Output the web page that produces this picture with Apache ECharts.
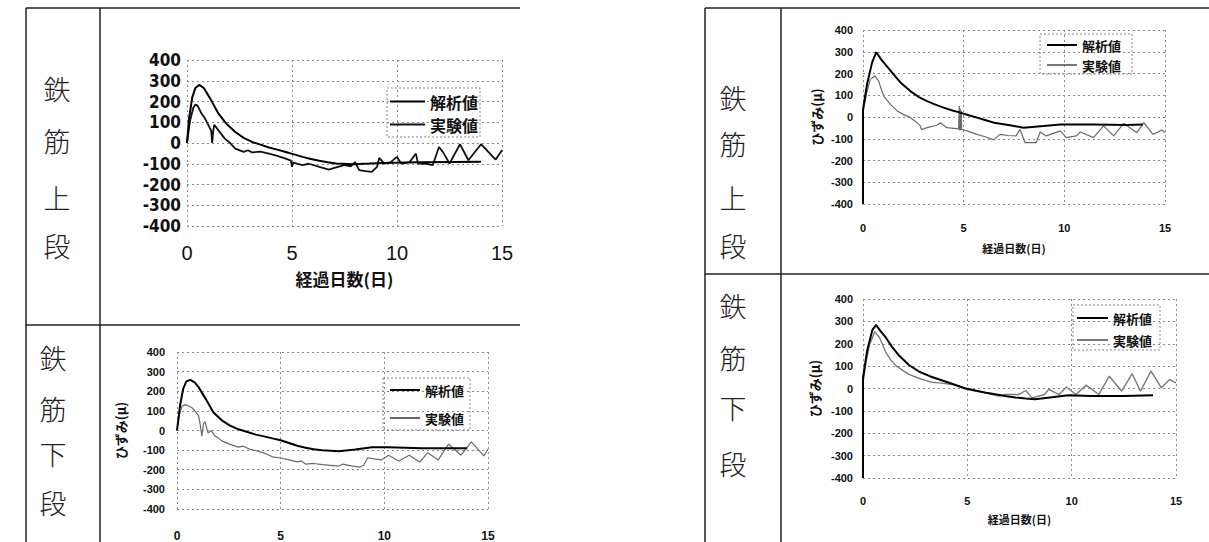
<!DOCTYPE html>
<html><head><meta charset="utf-8">
<script src="https://cdn.jsdelivr.net/npm/echarts@6/dist/echarts.min.js"></script>
<style>html,body{margin:0;padding:0;background:#fff}#c{width:1209px;height:542px}</style>
</head><body><div id="c"></div>
<script>
// ---- labels ----
const seriesNames = ['解析値', '実験値'];
const xTitle = '経過日数(日)';
const yTitle = 'ひずみ(μ)';
const rowUpper = ['鉄', '筋', '上', '段'];
const rowLower = ['鉄', '筋', '下', '段'];
const xMin = 0, xMax = 15, xStep = 5;
const yMin = -400, yMax = 400, yStep = 100;

// ---- chart 1: left, upper rebar ----
const leftUpperAnalysis = [[0,0],[0.1,120],[0.25,220],[0.4,265],[0.59,280],[0.8,265],[1.1,215],[1.5,141],[1.9,90],[2.3,53],[2.7,25],[3.1,5],[3.5,-8],[3.9,-22],[4.3,-32],[4.7,-43],[5.1,-55],[5.5,-67],[5.9,-77],[6.3,-86],[6.7,-93],[7.1,-99],[7.9,-102],[8.7,-99],[9.4,-96],[11,-93],[12.6,-91],[14,-90]];
const leftUpperTest = [[0,0],[0.15,110],[0.3,170],[0.4,185],[0.5,180],[0.7,141],[0.85,120],[1.0,90],[1.15,60],[1.2,0],[1.25,60],[1.3,88],[1.5,61],[1.8,21],[2.0,5],[2.3,-27],[2.7,-43],[2.9,-35],[3.1,-45],[3.5,-42],[3.9,-51],[4.3,-62],[4.7,-75],[4.95,-85],[5.0,-115],[5.05,-95],[5.5,-107],[5.8,-100],[6.3,-115],[6.75,-128],[7.1,-118],[7.5,-107],[7.8,-112],[8.0,-92],[8.2,-131],[8.5,-136],[8.8,-139],[9.05,-115],[9.15,-72],[9.4,-99],[9.7,-92],[10.0,-67],[10.2,-99],[10.6,-92],[10.9,-51],[11.0,-99],[11.4,-100],[11.7,-107],[12.0,-19],[12.2,-45],[12.5,-99],[13.0,-6],[13.4,-83],[14.0,-6],[14.7,-80],[15,-35]];

// ---- chart 2: left, lower rebar ----
const leftLowerAnalysis = [[0,0],[0.15,130],[0.3,213],[0.45,250],[0.64,258],[0.85,245],[1.04,221],[1.36,165],[1.76,92],[2.16,52],[2.56,25],[2.96,6],[3.4,-8],[3.8,-21],[4.2,-30],[4.6,-40],[5.0,-50],[5.4,-64],[5.8,-78],[6.2,-88],[6.6,-96],[7.0,-101],[7.8,-106],[8.6,-97],[9.4,-85],[10.2,-85],[11.8,-90],[14,-90]];
const leftLowerTest = [[0,0],[0.12,80],[0.24,124],[0.4,132],[0.55,125],[0.72,116],[0.9,95],[1.04,76],[1.12,30],[1.2,-29],[1.28,35],[1.35,45],[1.5,-13],[1.65,0],[1.8,-25],[1.95,-35],[2.16,-53],[2.5,-68],[2.96,-85],[3.2,-80],[3.5,-95],[3.8,-102],[4.2,-115],[4.6,-134],[5.0,-140],[5.4,-150],[5.8,-160],[6.0,-155],[6.2,-171],[6.6,-168],[7.0,-174],[7.4,-178],[7.8,-182],[8.0,-171],[8.4,-180],[8.8,-187],[9.0,-177],[9.2,-139],[9.5,-145],[9.85,-150],[10.2,-126],[10.7,-155],[11.2,-126],[11.7,-161],[12.1,-113],[12.6,-150],[13.1,-69],[13.7,-126],[14.2,-58],[14.8,-129],[15,-94]];

// ---- chart 3: right, upper rebar ----
const rightUpperAnalysis = [[0,-400],[0,35],[0.2,150],[0.45,250],[0.66,298],[0.9,265],[1.2,232],[1.52,196],[1.9,155],[2.35,119],[2.75,93],[3.18,73],[3.6,57],[4.0,43],[4.4,31],[4.83,20],[5.25,8],[5.66,-3],[6.1,-15],[6.5,-26],[6.9,-32],[7.3,-38],[7.97,-49],[8.97,-41],[9.8,-34],[11.45,-34],[13.1,-37],[13.9,-34]];
const rightUpperTest = [[0,20],[0.18,110],[0.36,173],[0.6,188],[0.78,165],[0.9,130],[1.03,96],[1.36,58],[1.7,28],[2.0,12],[2.35,-3],[2.6,-20],[2.85,-41],[2.9,-58],[3.18,-49],[3.67,-38],[3.85,-26],[4.17,-49],[4.5,-52],[4.75,-55],[4.78,50],[4.8,-62],[4.82,40],[4.85,-60],[4.88,30],[4.9,-57],[5.2,-65],[5.66,-80],[6.1,-92],[6.5,-105],[6.8,-80],[7.2,-85],[7.6,-87],[7.8,-57],[8.05,-118],[8.6,-118],[8.8,-69],[9.1,-87],[9.8,-64],[10.1,-95],[10.6,-87],[10.8,-69],[11.45,-95],[11.95,-41],[12.45,-87],[12.95,-29],[13.6,-72],[13.95,-26],[14.4,-80],[14.85,-60],[15,-72]];

// ---- chart 4: right, lower rebar ----
const rightLowerAnalysis = [[0,-400],[0,48],[0.2,170],[0.45,262],[0.63,284],[0.85,255],[1.1,227],[1.4,185],[1.75,145],[2.2,105],[2.7,75],[3.2,55],[3.8,36],[4.3,20],[4.9,0],[5.4,-10],[5.9,-19],[6.4,-27],[6.8,-34],[7.3,-40],[7.8,-45],[8.25,-48],[9.05,-39],[9.84,-30],[10.95,-34],[12.5,-34],[13.9,-30]];
const rightLowerTest = [[0,25],[0.15,120],[0.32,197],[0.56,254],[0.8,227],[1.1,160],[1.35,125],[1.6,100],[2.2,63],[2.6,48],[3.0,36],[3.3,28],[3.65,25],[4.3,18],[4.9,3],[5.3,-5],[5.7,-15],[6.1,-25],[6.5,-34],[6.8,-27],[7.46,-27],[7.8,-9],[8.1,-42],[8.7,-27],[8.9,-4],[9.4,-27],[9.75,7],[10.2,-27],[10.7,15],[11.3,-27],[11.8,55],[12.4,-12],[12.9,66],[13.3,-12],[13.8,78],[14.3,3],[14.7,40],[15,25]];

const chart = echarts.init(document.getElementById('c'), null, {renderer: 'svg'});

const FONT = 'Liberation Sans, Arial, Noto Sans CJK JP, sans-serif';
const CJK = 'Noto Sans CJK JP, sans-serif';
const dotted = {color: '#8a8a8a', type: [2, 3], width: 1};

const grids = [
  {left: 187, top: 60, width: 315, height: 166},
  {left: 177, top: 352, width: 311, height: 165},
  {left: 863, top: 30, width: 302, height: 174},
  {left: 863, top: 299, width: 313, height: 179}
];

function xAxis(i, opt) {
  return Object.assign({
    type: 'value', gridIndex: i, min: xMin, max: xMax, interval: xStep,
    axisLine: {show: false}, axisTick: {show: false},
    splitLine: {show: true, showMinLine: true, showMaxLine: true, lineStyle: dotted},
  }, opt);
}
function yAxis(i, opt) {
  return Object.assign({
    type: 'value', gridIndex: i, min: yMin, max: yMax, interval: yStep,
    axisLine: {show: false}, axisTick: {show: false},
    splitLine: {show: true, showMinLine: true, showMaxLine: true, lineStyle: dotted},
  }, opt);
}

const smallLbl = {fontSize: 11, fontWeight: 'bold', color: '#111', fontFamily: FONT};

const xAxes = [
  xAxis(0, {axisLabel: {fontSize: 20, color: '#111', margin: 17, fontFamily: FONT},
    name: xTitle, nameLocation: 'middle', nameGap: 44,
    nameTextStyle: {fontSize: 17, fontWeight: 'bold', color: '#111', fontFamily: CJK}}),
  xAxis(1, {axisLabel: Object.assign({margin: 21}, smallLbl, {fontSize: 12})}),
  xAxis(2, {axisLabel: Object.assign({margin: 18}, smallLbl),
    name: xTitle, nameLocation: 'middle', nameGap: 38,
    nameTextStyle: {fontSize: 11, fontWeight: 'bold', color: '#111', fontFamily: CJK}}),
  xAxis(3, {axisLabel: Object.assign({margin: 17}, smallLbl),
    name: xTitle, nameLocation: 'middle', nameGap: 35,
    nameTextStyle: {fontSize: 11, fontWeight: 'bold', color: '#111', fontFamily: CJK}})
];
const yNameStyle = {fontSize: 13, fontWeight: 'bold', color: '#111', fontFamily: CJK};
const yAxes = [
  yAxis(0, {axisLabel: {fontSize: 17, fontWeight: 'bold', color: '#111', margin: 6, lineHeight: 17, fontFamily: 'Liberation Sans Narrow, DejaVu Sans Condensed, sans-serif'}}),
  yAxis(1, {axisLabel: Object.assign({margin: 12}, smallLbl),
    name: yTitle, nameLocation: 'middle', nameGap: 50, nameRotate: 90, nameTextStyle: yNameStyle}),
  yAxis(2, {axisLabel: Object.assign({margin: 10}, smallLbl),
    name: yTitle, nameLocation: 'middle', nameGap: 40, nameRotate: 90, nameTextStyle: yNameStyle}),
  yAxis(3, {axisLabel: Object.assign({margin: 10}, smallLbl),
    name: yTitle, nameLocation: 'middle', nameGap: 42, nameRotate: 90, nameTextStyle: yNameStyle})
];

const datasets = [
  [leftUpperAnalysis, leftUpperTest],
  [leftLowerAnalysis, leftLowerTest],
  [rightUpperAnalysis, rightUpperTest],
  [rightLowerAnalysis, rightLowerTest]
];
const testColor = ['#111', '#6a6a6a', '#6a6a6a', '#7a7a7a'];
const testWidth = [1.8, 1.2, 1.2, 1.4];
const series = [];
datasets.forEach((pair, i) => {
  series.push({name: seriesNames[0], type: 'line', xAxisIndex: i, yAxisIndex: i, data: pair[0],
    showSymbol: false, symbol: 'none', lineStyle: {color: '#000', width: 2}, itemStyle: {color: '#000'}, z: 3});
  series.push({name: seriesNames[1], type: 'line', xAxisIndex: i, yAxisIndex: i, data: pair[1],
    showSymbol: false, symbol: 'none', lineStyle: {color: testColor[i], width: testWidth[i]}, itemStyle: {color: testColor[i]}, z: 2});
});

function legend(left, top, itemWidth, gap, fontSize, lh, c2) {
  return {
    left, top, orient: 'vertical', icon: 'rect', itemWidth, itemHeight: 2, itemGap: gap,
    padding: 0, selectedMode: false,
    textStyle: {fontSize, fontWeight: 'bold', color: '#111', fontFamily: CJK, lineHeight: lh, padding: [0,0,0,0]},
    data: [{name: seriesNames[0], itemStyle: {color: '#000'}},
           {name: seriesNames[1], itemStyle: {color: c2}}]
  };
}
const legends = [
  legend(390, 93, 35, 6, 16, 17, '#111'),
  legend(390, 383, 30, 14, 13, 14, '#666'),
  legend(1047, 38, 30, 6, 13, 14, '#777'),
  legend(1077, 311, 31, 8, 13, 14, '#777')
];

// table structure and row headers
const graphic = [];
function line(x1, y1, x2, y2) {
  graphic.push({type: 'line', shape: {x1, y1, x2, y2}, style: {stroke: '#222', lineWidth: 1.5}, silent: true});
}
line(26, 8, 520, 8); line(26, 8, 26, 542); line(100, 8, 100, 542); line(26, 325, 520, 325);
line(705, 8, 1209, 8); line(705, 8, 705, 542); line(781, 8, 781, 542); line(705, 274, 1209, 274);

function rowText(chars, x, ys) {
  chars.forEach((ch, k) => graphic.push({type: 'text', x: x, y: ys[k], silent: true,
    style: {text: ch, fill: '#222', font: '300 27px ' + CJK, align: 'center', verticalAlign: 'middle'}}));
}
rowText(rowUpper, 57, [88, 140, 197, 245]);
rowText(rowLower, 53, [357, 408, 453, 502]);
rowText(rowUpper, 733, [97, 143, 197, 245]);
rowText(rowLower, 733, [305, 357, 407, 463]);

function box(x, y, w, h) {
  graphic.push({type: 'rect', shape: {x, y, width: w, height: h}, silent: true,
    style: {fill: 'rgba(255,255,255,0.9)', stroke: '#888', lineWidth: 1, lineDash: [2, 2]}, z: -1});
}
box(387, 88, 93, 49);
box(383, 378, 87, 52);
box(1040, 34, 92, 40);
box(1073, 305, 87, 45);

chart.setOption({
  animation: false,
  textStyle: {fontFamily: FONT},
  grid: grids, xAxis: xAxes, yAxis: yAxes, series, legend: legends, graphic
});
</script></body></html>
